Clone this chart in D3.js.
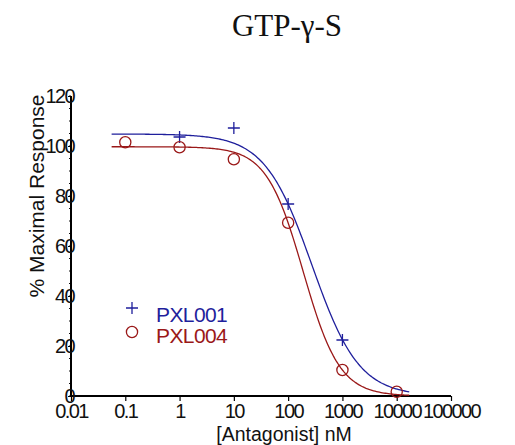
<!DOCTYPE html>
<html lang="en">
    <head>
        <meta charset="utf-8">
        <title>GTP-gamma-S</title>
        <script src="https://d3js.org/d3.v7.min.js"></script>
        <style type="text/css">
            body { margin: 0; background: white; }
            svg text { font-family: "Liberation Sans", Arial, sans-serif; fill: #111; }
            .title { font-family: "Liberation Serif", "Times New Roman", serif; font-size: 31px; }
            .tick-label { font-size: 20px; letter-spacing: -1.6px; }
        </style>
    </head>
    <body>
        <svg width="515" height="445"></svg>
        <script type="text/javascript">

            // concentrations (nM) and responses
            const conc001 = [1, 10, 100, 1000];
            const resp001 = [103.6, 107.2, 76.8, 22.4];
            const conc004 = [0.1, 1, 10, 100, 1000, 10000];
            const resp004 = [101.5, 99.5, 94.7, 69.3, 10.4, 1.7];

            // fitted curves: [top, bottom, IC50 nM, hill slope]
            const fit001 = [104.8, 0, 274, 1.0];
            const fit004 = [99.7, 0, 189, 1.29];
            const curveRange = [0.056, 17000];

            const xTicks = [0.01, 0.1, 1, 10, 100, 1000, 10000, 100000];
            const yTicks = [0, 20, 40, 60, 80, 100, 120];

            const blue = "#1f1f9c";
            const red = "#9a1818";

            const svg = d3.select("svg");
            const x = d3.scaleLog().domain([0.01, 100000]).range([71, 451]);
            const y = d3.scaleLinear().domain([0, 120]).range([396, 96]);

            svg.append("text").attr("class", "title")
               .attr("x", 287).attr("y", 36)
               .attr("text-anchor", "middle")
               .text("GTP-\u03b3-S");

            // axes
            const xAxis = svg.append("g")
                .attr("transform", "translate(0,396)")
                .call(d3.axisBottom(x).tickValues(xTicks).tickSize(5).tickFormat(d3.format("")));
            xAxis.select(".domain").attr("stroke-width", 2).attr("d", "M71,0H451");
            xAxis.selectAll(".tick line").attr("stroke-width", 1.2);
            xAxis.selectAll(".tick text").attr("class", "tick-label")
                 .attr("y", 8).attr("font-size", null).attr("font-family", null);

            const minor = d3.range(0, 121, 5);
            svg.append("g").selectAll("line")
               .data(minor).enter().append("line")
               .attr("x1", 69).attr("x2", 71)
               .attr("y1", d => y(d)).attr("y2", d => y(d))
               .attr("stroke", "#111").attr("stroke-width", 1);

            const yAxis = svg.append("g")
                .attr("transform", "translate(71,0)")
                .call(d3.axisLeft(y).tickValues(yTicks).tickSize(3));
            yAxis.select(".domain").attr("stroke-width", 2).attr("d", "M0,96V397");
            yAxis.selectAll(".tick text").attr("class", "tick-label")
                 .attr("x", 3).attr("font-size", null).attr("font-family", null);

            svg.append("text")
               .attr("transform", "translate(44,196) rotate(-90)")
               .attr("text-anchor", "middle")
               .attr("font-size", 21)
               .text("% Maximal Response");

            svg.append("text")
               .attr("x", 284).attr("y", 441)
               .attr("text-anchor", "middle")
               .attr("font-size", 19.5)
               .text("[Antagonist] nM");

            // fitted curves
            function curvePoints(p) {
                const lo = Math.log10(curveRange[0]), hi = Math.log10(curveRange[1]);
                return d3.range(0, 201).map(i => {
                    const c = Math.pow(10, lo + (hi - lo) * i / 200);
                    return [c, p[1] + (p[0] - p[1]) / (1 + Math.pow(c / p[2], p[3]))];
                });
            }
            const line = d3.line().x(d => x(d[0])).y(d => y(d[1]));

            svg.append("path").datum(curvePoints(fit004))
               .attr("d", line).attr("fill", "none")
               .attr("stroke", red).attr("stroke-width", 1.3);
            svg.append("path").datum(curvePoints(fit001))
               .attr("d", line).attr("fill", "none")
               .attr("stroke", blue).attr("stroke-width", 1.3);

            // points
            function cross(g, cx, cy, color) {
                g.append("path")
                 .attr("d", `M${cx - 6},${cy}H${cx + 6}M${cx},${cy - 6}V${cy + 6}`)
                 .attr("stroke", color).attr("stroke-width", 1.3).attr("fill", "none");
            }
            const pts = svg.append("g");
            conc001.forEach((c, i) => cross(pts, x(c), y(resp001[i]), blue));
            pts.selectAll("circle")
               .data(conc004).enter().append("circle")
               .attr("cx", d => x(d))
               .attr("cy", (d, i) => y(resp004[i]))
               .attr("r", 5.6)
               .attr("fill", "none").attr("stroke", red).attr("stroke-width", 1.3);

            // legend
            cross(svg, 132, 308, blue);
            svg.append("circle").attr("cx", 132).attr("cy", 332).attr("r", 5.6)
               .attr("fill", "none").attr("stroke", red).attr("stroke-width", 1.3);
            svg.append("text").attr("x", 156).attr("y", 322)
               .attr("font-size", 21).attr("letter-spacing", -0.6)
               .style("fill", blue).text("PXL001");
            svg.append("text").attr("x", 156).attr("y", 343)
               .attr("font-size", 21).attr("letter-spacing", -0.6)
               .style("fill", red).text("PXL004");

        </script>
    </body>
</html>
